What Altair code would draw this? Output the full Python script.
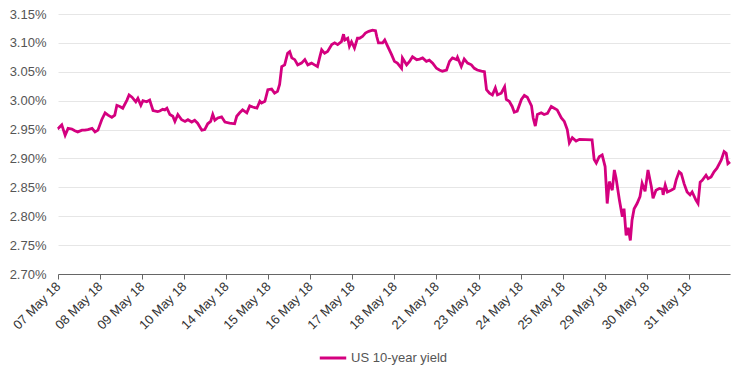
import altair as alt
import pandas as pd

day_labels = ["07 May 18", "08 May 18", "09 May 18", "10 May 18", "14 May 18",
              "15 May 18", "16 May 18", "17 May 18", "18 May 18", "21 May 18",
              "23 May 18", "24 May 18", "25 May 18", "29 May 18", "30 May 18",
              "31 May 18"]

y_ticks = [2.70, 2.75, 2.80, 2.85, 2.90, 2.95, 3.00, 3.05, 3.10, 3.15]

series_name = "US 10-year yield"

# time position in trading-day units (0 = start of 07 May 18)
t = [0.01, 0.02, 0.09, 0.17, 0.24, 0.33, 0.40, 0.47, 0.57, 0.64, 0.71, 0.81, 0.88, 0.95,
     1.04, 1.12, 1.19, 1.28, 1.35, 1.40, 1.47, 1.54, 1.64, 1.69, 1.76, 1.85, 1.90, 1.97,
     2.02, 2.11, 2.18, 2.26, 2.37, 2.42, 2.49, 2.54, 2.59, 2.66, 2.73, 2.78, 2.85, 2.94,
     3.02, 3.09, 3.18, 3.25, 3.32, 3.42, 3.49, 3.56, 3.63, 3.68, 3.73, 3.80, 3.89, 3.97,
     4.08, 4.20, 4.25, 4.32, 4.39, 4.49, 4.56, 4.63, 4.73, 4.80, 4.84, 4.92, 4.99,
     5.08, 5.15, 5.22, 5.27, 5.32, 5.39, 5.46, 5.51, 5.56, 5.63, 5.70, 5.79, 5.87, 5.94,
     6.03, 6.10, 6.17, 6.22, 6.27, 6.34, 6.41, 6.51, 6.58, 6.65, 6.74, 6.79, 6.82, 6.89,
     6.93, 6.98, 7.05, 7.12, 7.17, 7.24, 7.31, 7.39, 7.48, 7.55, 7.58, 7.62, 7.72, 7.77,
     7.84, 7.93, 8.00, 8.07, 8.17, 8.19, 8.29, 8.36, 8.43, 8.53, 8.60, 8.67, 8.76, 8.83,
     8.91, 9.00, 9.07, 9.14, 9.24, 9.31, 9.38, 9.48, 9.50, 9.59, 9.66, 9.74, 9.83, 9.90,
     9.97, 10.07, 10.14, 10.19, 10.26, 10.33, 10.40, 10.45, 10.54, 10.62, 10.66, 10.73,
     10.80, 10.85, 10.92, 11.02, 11.09, 11.16, 11.26, 11.30, 11.35, 11.40, 11.49, 11.56,
     11.64, 11.73, 11.80, 11.87, 11.97, 12.04, 12.11, 12.16, 12.23, 12.32, 12.40, 12.70,
     12.75, 12.80, 12.87, 12.94, 13.01, 13.06, 13.11, 13.18, 13.23, 13.27, 13.35, 13.42,
     13.46, 13.51, 13.56, 13.61, 13.65, 13.70, 13.77, 13.84, 13.89, 13.96, 14.03, 14.11,
     14.15, 14.22, 14.30, 14.37, 14.39, 14.44, 14.49, 14.58, 14.65, 14.70, 14.77, 14.82,
     14.89, 14.96, 15.03, 15.08, 15.17, 15.22, 15.27, 15.32, 15.41, 15.46, 15.53, 15.60,
     15.67, 15.77, 15.84, 15.89, 15.93, 15.98]

yld = [2.955, 2.953, 2.958, 2.940, 2.952, 2.951, 2.948, 2.946, 2.949, 2.949, 2.950, 2.952, 2.946, 2.949,
       2.967, 2.979, 2.975, 2.971, 2.975, 2.992, 2.990, 2.987, 3.001, 3.010, 3.006, 2.998, 3.004, 2.992,
       3.000, 2.998, 3.001, 2.983, 2.981, 2.982, 2.985, 2.984, 2.987, 2.976, 2.973, 2.964, 2.976, 2.967,
       2.964, 2.967, 2.963, 2.966, 2.961, 2.949, 2.950, 2.960, 2.964, 2.976, 2.966, 2.970, 2.972, 2.963,
       2.961, 2.960, 2.973, 2.979, 2.984, 2.979, 2.991, 2.989, 2.987, 2.999, 2.996, 2.999, 3.019,
       3.020, 3.013, 3.016, 3.028, 3.059, 3.062, 3.082, 3.085, 3.074, 3.071, 3.062, 3.065, 3.071, 3.062,
       3.065, 3.062, 3.059, 3.074, 3.088, 3.082, 3.085, 3.097, 3.100, 3.097, 3.102, 3.115, 3.105, 3.108,
       3.094, 3.102, 3.091, 3.108, 3.108, 3.111, 3.117, 3.120, 3.122, 3.121, 3.111, 3.100, 3.100, 3.105,
       3.094, 3.080, 3.068, 3.065, 3.056, 3.074, 3.062, 3.068, 3.076, 3.071, 3.072, 3.074, 3.068, 3.070,
       3.065, 3.056, 3.053, 3.051, 3.053, 3.068, 3.074, 3.071, 3.075, 3.059, 3.072, 3.065, 3.062, 3.056,
       3.053, 3.051, 3.050, 3.019, 3.013, 3.010, 3.022, 3.010, 3.013, 3.024, 3.002, 2.999,
       2.990, 2.980, 2.982, 3.002, 3.009, 3.006, 2.991, 2.970, 2.956, 2.976, 2.979, 2.976,
       2.978, 2.990, 2.987, 2.984, 2.970, 2.964, 2.950, 2.927, 2.936, 2.930, 2.933, 2.932,
       2.898, 2.892, 2.903, 2.906, 2.886, 2.822, 2.860, 2.845, 2.880, 2.866, 2.828, 2.799,
       2.813, 2.767, 2.780, 2.758, 2.793, 2.813, 2.822, 2.834, 2.857, 2.843, 2.880, 2.851,
       2.831, 2.845, 2.848, 2.847, 2.837, 2.854, 2.842, 2.845, 2.848, 2.863, 2.877, 2.874,
       2.856, 2.842, 2.837, 2.842, 2.828, 2.822, 2.859, 2.862, 2.871, 2.865, 2.868, 2.877,
       2.883, 2.897, 2.912, 2.909, 2.891, 2.894]

df = pd.DataFrame({"t": t, "yield": yld, "series": series_name})

label_js = "[" + ",".join("'" + d + "'" for d in day_labels) + "]"
FONT = "Liberation Sans"
MAGENTA = "#d4007f"

chart = (
    alt.Chart(df)
    .mark_line(strokeWidth=2.8)
    .encode(
        x=alt.X(
            "t:Q",
            scale=alt.Scale(domain=[0, 15.98], nice=False, zero=False),
            axis=alt.Axis(
                values=list(range(len(day_labels))),
                labelExpr=label_js + "[datum.value]",
                labelAngle=-45,
                labelAlign="right",
                labelBaseline="middle",
                labelOverlap=False,
                labelFlush=False,
                labelBound=False,
                grid=False,
                domainColor="#666666",
                tickColor="#666666",
                tickSize=5,
                labelFontSize=13,
                labelColor="#333333",
                labelPadding=5,
                labelFont=FONT,
                title=None,
            ),
        ),
        y=alt.Y(
            "yield:Q",
            scale=alt.Scale(domain=[2.70, 3.15], nice=False, zero=False),
            axis=alt.Axis(
                values=y_ticks,
                labelExpr="format(datum.value, '.2f') + '%'",
                labelOverlap=False,
                grid=True,
                gridColor="#e6e6e6",
                gridWidth=1,
                domain=False,
                ticks=False,
                labelPadding=12,
                labelFontSize=13,
                labelColor="#555555",
                labelFont=FONT,
                title=None,
            ),
        ),
        color=alt.Color(
            "series:N",
            scale=alt.Scale(domain=[series_name], range=[MAGENTA]),
            legend=alt.Legend(
                title=None,
                orient="none",
                legendX=260,
                legendY=329,
                padding=0,
                symbolType="stroke",
                symbolSize=700,
                symbolStrokeWidth=3,
                labelOffset=3,
                labelFontSize=13,
                labelColor="#555555",
                labelFont=FONT,
            ),
        ),
    )
    .properties(
        width=672,
        height=260,
        autosize=alt.AutoSizeParams(type="none"),
        padding={"left": 50, "top": 6, "right": 18, "bottom": 96},
    )
    .configure_view(strokeWidth=0)
)

chart.save("out.html", embed_options={"renderer": "svg", "actions": False})
